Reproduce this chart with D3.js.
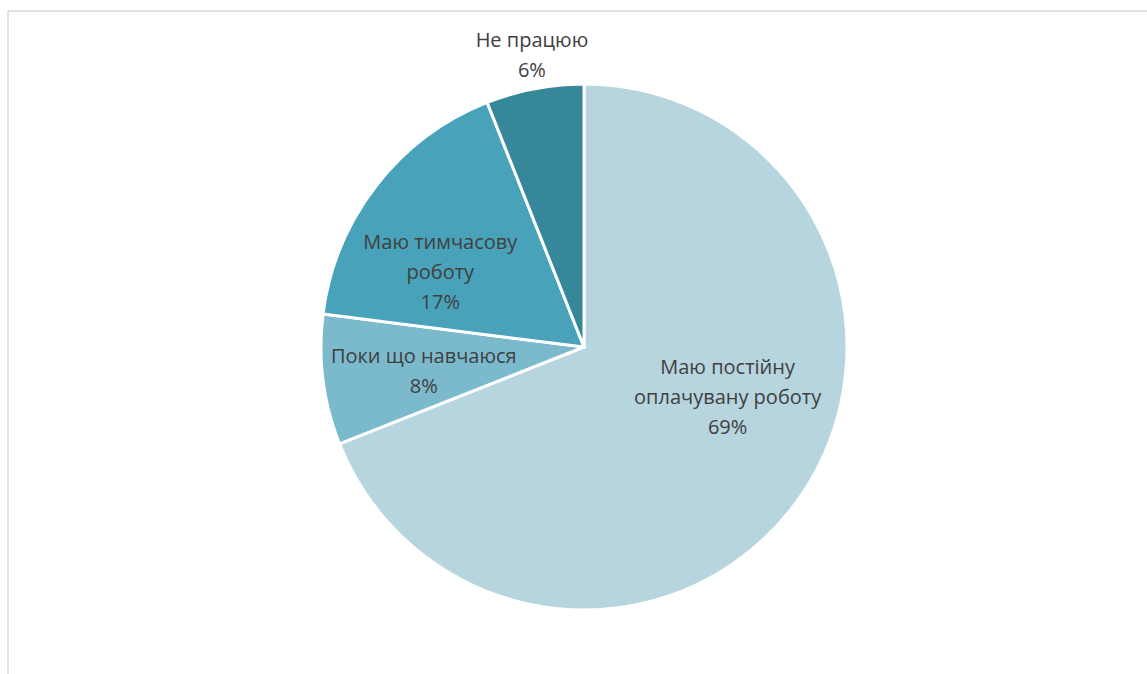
<!DOCTYPE html>
<html>
<head>
<meta charset="utf-8">
<script src="https://cdn.jsdelivr.net/npm/d3@7"></script>
<style>
  html, body { margin: 0; padding: 0; background: #fff; }
  svg { display: block; }
</style>
</head>
<body>
<svg id="chart" width="1147" height="674"></svg>
<script>
// Employment status shares
const categories = ["Маю постійну оплачувану роботу", "Поки що навчаюся", "Маю тимчасову роботу", "Не працюю"];
const values = [69, 8, 17, 6];
const colors = ["#b7d5df", "#7bb9cd", "#48a2b9", "#37879a"];
// Label text split into lines
const labelLines = [
  ["Маю постійну", "оплачувану роботу"],
  ["Поки що навчаюся"],
  ["Маю тимчасову", "роботу"],
  ["Не працюю"]
];
// Label anchor placement: [angle in degrees clockwise from top, distance from centre]
const labelPlacement = [[109.1, 152], [261.5, 162], [297.5, 162], [349.9, 297]];

const width = 1147, height = 674;
const cx = 584, cy = 347, radius = 263;
const lineH = 30;

const svg = d3.select("#chart");

// chart frame
svg.append("rect")
  .attr("x", 8).attr("y", 11)
  .attr("width", width).attr("height", height)
  .attr("fill", "none").attr("stroke", "#d9d9d9").attr("stroke-width", 1.5);

const data = categories.map((c, i) => ({ name: c, value: values[i], i }));

const pie = d3.pie().sort(null).value(d => d.value);
const arc = d3.arc().innerRadius(0).outerRadius(radius);

const g = svg.append("g").attr("transform", `translate(${cx},${cy})`);

g.selectAll("path.slice")
  .data(pie(data))
  .join("path")
  .attr("class", "slice")
  .attr("d", arc)
  .attr("fill", d => colors[d.data.i])
  .attr("stroke", "#fff")
  .attr("stroke-width", 3)
  .attr("stroke-linejoin", "miter");

g.selectAll("text.lbl")
  .data(pie(data))
  .join("text")
  .attr("class", "lbl")
  .attr("text-anchor", "middle")
  .attr("font-family", "'Open Sans', sans-serif")
  .attr("font-size", 20)
  .attr("fill", "#404040")
  .each(function (d) {
    const [deg, r] = labelPlacement[d.data.i];
    const [px, py] = d3.pointRadial(deg * Math.PI / 180, r);
    const lines = labelLines[d.data.i].concat([d.data.value + "%"]);
    const top = py - (lines.length - 1) * lineH / 2;
    const t = d3.select(this);
    lines.forEach((ln, k) => {
      t.append("tspan")
        .attr("x", px)
        .attr("y", top + k * lineH)
        .attr("dy", "0.35em")
        .text(ln);
    });
  });
</script>
</body>
</html>
